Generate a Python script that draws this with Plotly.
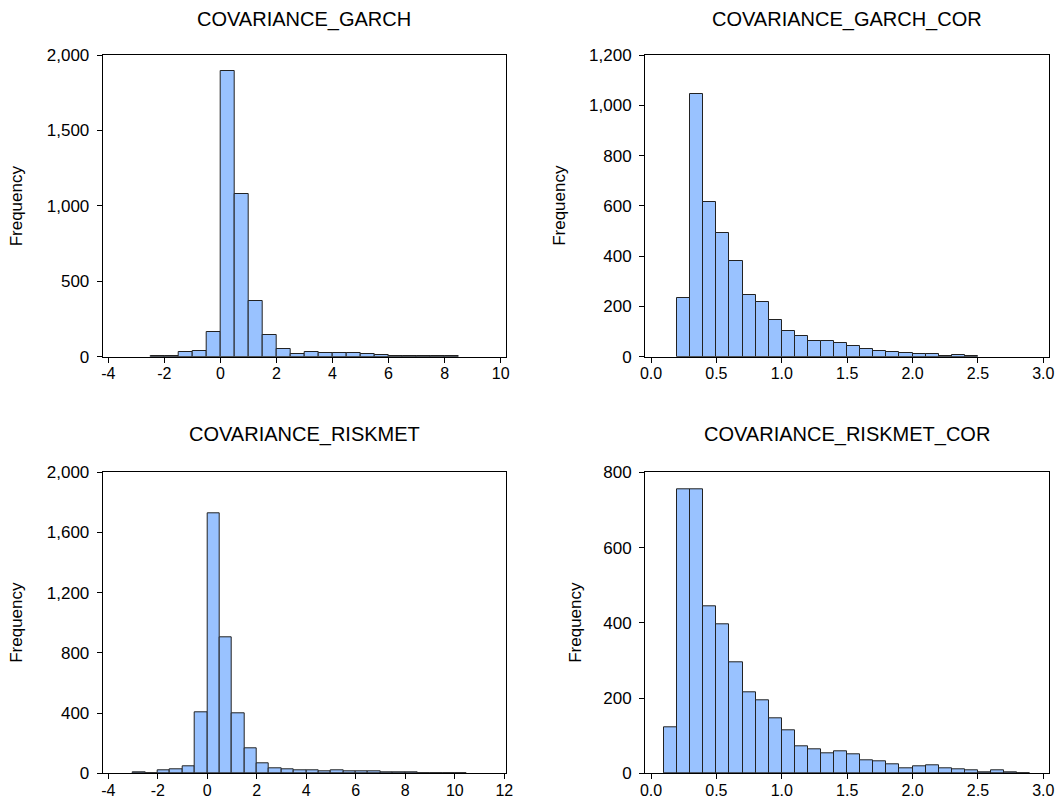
import plotly.graph_objects as go

# ---- data (bin lower edges and frequencies) ----
garch_edges = [-2.5, -2.0, -1.5, -1.0, -0.5, 0.0, 0.5, 1.0, 1.5, 2.0, 2.5, 3.0, 3.5, 4.0,
               4.5, 5.0, 5.5, 6.0, 6.5, 7.0, 7.5, 8.0]
garch_counts = [3, 6, 29, 35, 164, 1896, 1081, 369, 144, 53, 18, 29, 27, 27,
                22, 15, 11, 7, 4, 3, 3, 2]
garch_width = 0.5

garch_cor_edges = [0.2, 0.3, 0.4, 0.5, 0.6, 0.7, 0.8, 0.9, 1.0, 1.1, 1.2, 1.3, 1.4, 1.5,
                   1.6, 1.7, 1.8, 1.9, 2.0, 2.1, 2.2, 2.3, 2.4]
garch_cor_counts = [235, 1044, 617, 491, 379, 247, 216, 147, 102, 84, 64, 64, 53, 41,
                    32, 23, 20, 16, 9, 12, 4, 5, 2]
garch_cor_width = 0.1

riskmet_edges = [-3.0, -2.5, -2.0, -1.5, -1.0, -0.5, 0.0, 0.5, 1.0, 1.5, 2.0, 2.5, 3.0, 3.5,
                 4.0, 4.5, 5.0, 5.5, 6.0, 6.5, 7.0, 7.5, 8.0, 8.5, 9.0, 9.5, 10.0]
riskmet_counts = [4, 2, 18, 27, 46, 405, 1728, 904, 399, 166, 64, 33, 27, 22,
                  20, 13, 18, 13, 11, 11, 4, 4, 4, 2, 2, 2, 2]
riskmet_width = 0.5

riskmet_cor_edges = [0.1, 0.2, 0.3, 0.4, 0.5, 0.6, 0.7, 0.8, 0.9, 1.0, 1.1, 1.2, 1.3, 1.4,
                     1.5, 1.6, 1.7, 1.8, 1.9, 2.0, 2.1, 2.2, 2.3, 2.4, 2.5, 2.6, 2.7, 2.8]
riskmet_cor_counts = [122, 756, 754, 444, 397, 295, 215, 194, 146, 114, 72, 65, 54, 59,
                      50, 35, 31, 24, 12, 19, 21, 12, 11, 7, 2, 7, 3, 1]
riskmet_cor_width = 0.1

titles = ["COVARIANCE_GARCH", "COVARIANCE_GARCH_COR",
          "COVARIANCE_RISKMET", "COVARIANCE_RISKMET_COR"]

x_ticks_1 = [-4, -2, 0, 2, 4, 6, 8, 10]
x_labels_1 = ["-4", "-2", "0", "2", "4", "6", "8", "10"]
x_ticks_2 = [0.0, 0.5, 1.0, 1.5, 2.0, 2.5, 3.0]
x_labels_2 = ["0.0", "0.5", "1.0", "1.5", "2.0", "2.5", "3.0"]
x_ticks_3 = [-4, -2, 0, 2, 4, 6, 8, 10, 12]
x_labels_3 = ["-4", "-2", "0", "2", "4", "6", "8", "10", "12"]
x_ticks_4 = [0.0, 0.5, 1.0, 1.5, 2.0, 2.5, 3.0]
x_labels_4 = ["0.0", "0.5", "1.0", "1.5", "2.0", "2.5", "3.0"]
y_ticks_1 = [0, 500, 1000, 1500, 2000]
y_ticks_2 = [0, 200, 400, 600, 800, 1000, 1200]
y_ticks_3 = [0, 400, 800, 1200, 1600, 2000]
y_ticks_4 = [0, 200, 400, 600, 800]

# ---- styling ----
W, H = 1060, 800
FONT = "Liberation Sans, Arial, sans-serif"
BAR_FILL = "#99C2FF"
BAR_LINE = "#222222"

panels = [
    dict(edges=garch_edges, counts=garch_counts, w=garch_width, xt=x_ticks_1, xl=x_labels_1, yt=y_ticks_1,
         xr=[-4.2, 10.19], yr=[0, 2000], px=(102.7, 506), py=(55, 356.7),
         ylab_x=16.5, title_y=19),
    dict(edges=garch_cor_edges, counts=garch_cor_counts, w=garch_cor_width, xt=x_ticks_2, xl=x_labels_2, yt=y_ticks_2,
         xr=[-0.046, 3.041], yr=[0, 1200], px=(645, 1048.7), py=(55, 356.7),
         ylab_x=560, title_y=19),
    dict(edges=riskmet_edges, counts=riskmet_counts, w=riskmet_width, xt=x_ticks_3, xl=x_labels_3, yt=y_ticks_3,
         xr=[-4.226, 12.07], yr=[0, 2000], px=(102.7, 506), py=(472.3, 773.3),
         ylab_x=17, title_y=434.5),
    dict(edges=riskmet_cor_edges, counts=riskmet_cor_counts, w=riskmet_cor_width, xt=x_ticks_4, xl=x_labels_4, yt=y_ticks_4,
         xr=[-0.046, 3.041], yr=[0, 800], px=(645, 1048.7), py=(472.3, 773.3),
         ylab_x=576, title_y=434.5),
]

fig = go.Figure()
layout = dict(
    width=W, height=H,
    margin=dict(l=0, r=0, t=0, b=0, autoexpand=False),
    paper_bgcolor="white", plot_bgcolor="white",
    showlegend=False, bargap=0,
    font=dict(family=FONT, size=16, color="black"),
    separators=".,",
)
annotations = []
for i, p in enumerate(panels):
    n = i + 1
    xa = "x" if n == 1 else f"x{n}"
    ya = "y" if n == 1 else f"y{n}"
    fig.add_trace(go.Bar(
        x=p["edges"], y=p["counts"], width=[p["w"]] * len(p["edges"]), offset=0,
        xaxis=xa, yaxis=ya, hoverinfo="skip",
        marker=dict(color=BAR_FILL, line=dict(color=BAR_LINE, width=1)),
    ))
    x0, x1 = p["px"]
    yt, yb = p["py"]
    common = dict(showgrid=False, zeroline=False, showline=True, linecolor="black",
                  linewidth=1, mirror=True, ticks="outside", ticklen=5, tickcolor="black",
                  automargin=False)
    layout[f"xaxis{'' if n == 1 else n}"] = dict(
        domain=[x0 / W, x1 / W], anchor=ya, range=p["xr"],
        tickmode="array", tickvals=p["xt"], ticktext=p["xl"], ticklabelstandoff=-3,
        tickfont=dict(family=FONT, size=16, color="black"), **common)
    layout[f"yaxis{'' if n == 1 else n}"] = dict(
        domain=[1 - yb / H, 1 - yt / H], anchor=xa, range=p["yr"],
        tickvals=p["yt"], tickformat=",d", ticklabelstandoff=4,
        tickfont=dict(family=FONT, size=17, color="black"), **common)
    annotations.append(dict(
        text=titles[i], xref="paper", yref="paper",
        x=(x0 + x1) / 2 / W, y=1 - p["title_y"] / H, xanchor="center", yanchor="middle",
        showarrow=False, font=dict(family=FONT, size=20, color="black")))
    annotations.append(dict(
        text="Frequency", xref="paper", yref="paper", textangle=-90,
        x=p["ylab_x"] / W, y=1 - ((yt + yb) / 2) / H, xanchor="center", yanchor="middle",
        showarrow=False, font=dict(family=FONT, size=17, color="black")))

layout["annotations"] = annotations
fig.update_layout(**layout)
fig.write_html(
    "out.html",
    config={"displayModeBar": False},
    post_script="document.body.style.margin='0';document.body.style.overflow='hidden';",
)
